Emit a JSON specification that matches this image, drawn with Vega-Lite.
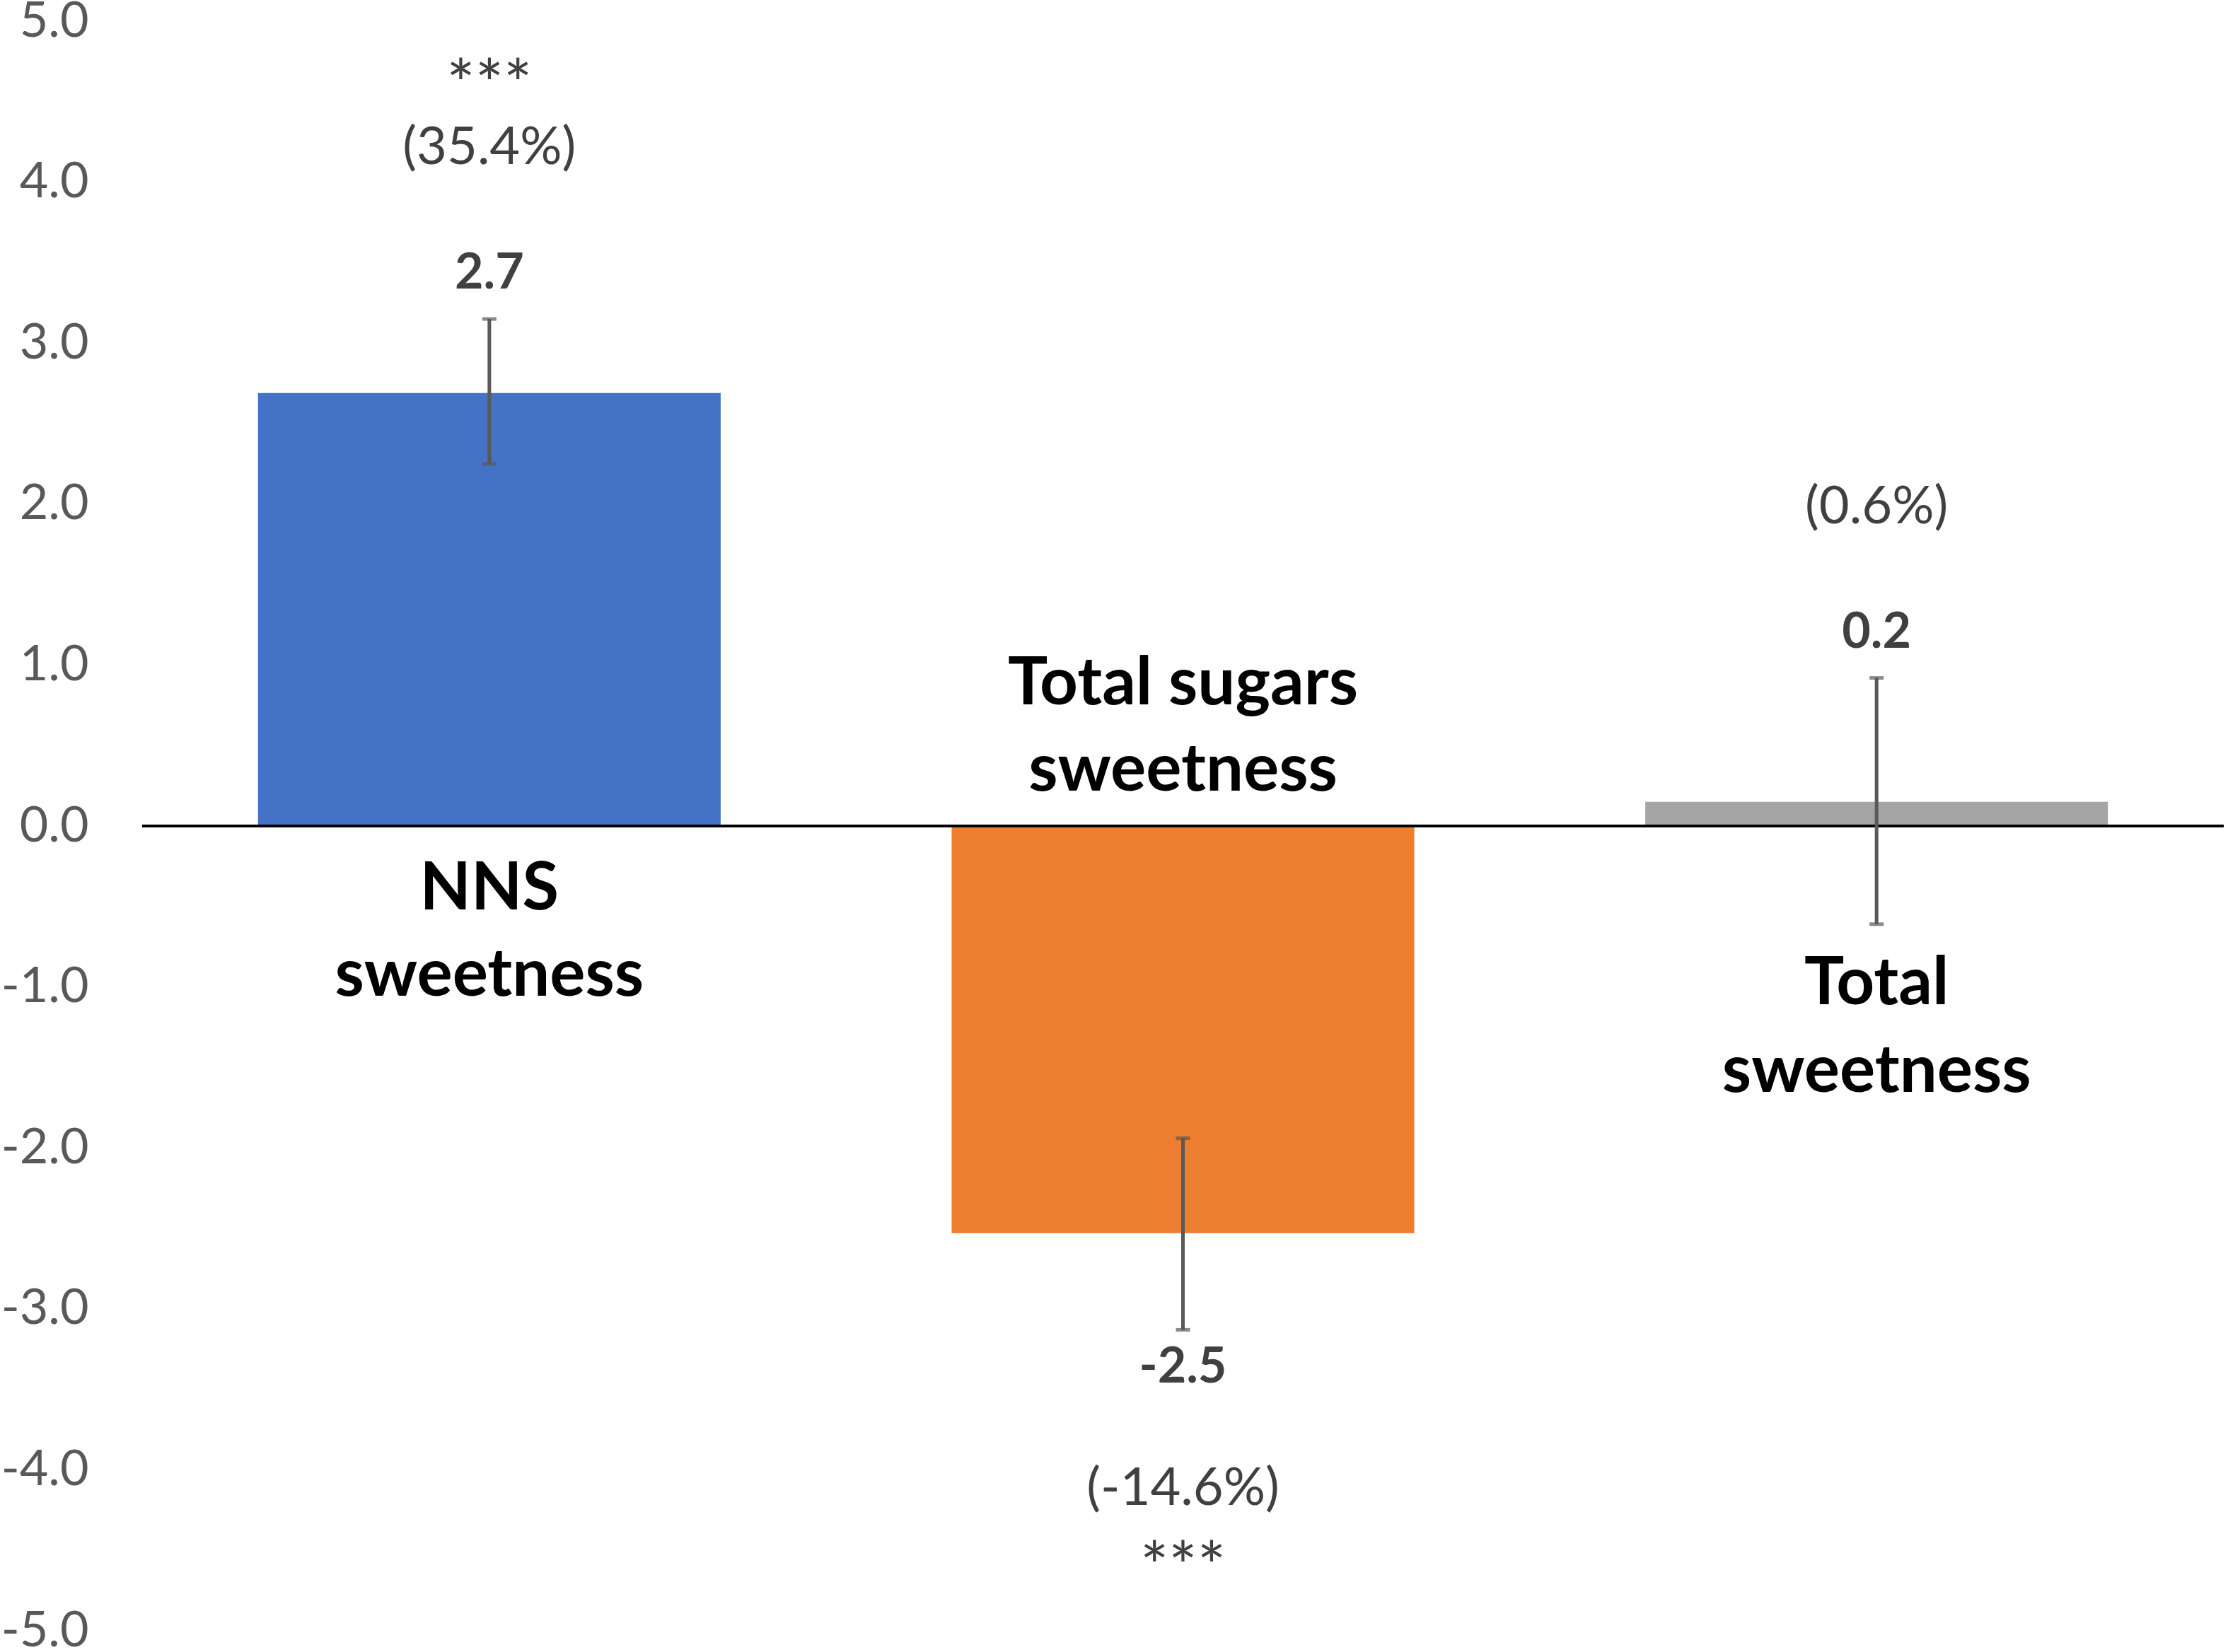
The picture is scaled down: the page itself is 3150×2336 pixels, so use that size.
{
  "$schema": "https://vega.github.io/schema/vega-lite/v6.json",
  "autosize": {"type": "none"},
  "width": 2943,
  "height": 2276,
  "padding": {"left": 201, "top": 30, "right": 6, "bottom": 30},
  "background": "white",
  "config": {
    "view": {"stroke": null},
    "font": "Lato",
    "text": {"font": "Lato", "baseline": "middle", "align": "center"}
  },
  "data": {
    "values": [
      {"name": "NNS sweetness", "label": "NNS\nsweetness", "value": 2.69, "lo": 2.25, "hi": 3.15, "vl": "2.7", "pct": "(35.4%)", "sig": "***"},
      {"name": "Total sugars sweetness", "label": "Total sugars\nsweetness", "value": -2.53, "lo": -3.13, "hi": -1.94, "vl": "-2.5", "pct": "(-14.6%)", "sig": "***"},
      {"name": "Total sweetness", "label": "Total\nsweetness", "value": 0.15, "lo": -0.61, "hi": 0.92, "vl": "0.2", "pct": "(0.6%)", "sig": ""}
    ]
  },
  "encoding": {
    "x": {
      "field": "name",
      "type": "nominal",
      "sort": null,
      "scale": {"paddingInner": 0.333, "paddingOuter": 0.167},
      "axis": null
    }
  },
  "layer": [
    {
      "mark": {"type": "bar"},
      "encoding": {
        "y": {
          "field": "value",
          "type": "quantitative",
          "scale": {"domain": [-5, 5], "nice": false},
          "axis": {
            "values": [-5, -4, -3, -2, -1, 0, 1, 2, 3, 4, 5],
            "labelExpr": "replace(format(datum.value, '.1f'), '\u2212', '-')",
            "title": null,
            "grid": false,
            "domain": false,
            "ticks": false,
            "labelPadding": 76,
            "labelFont": "Lato",
            "labelFontSize": 70,
            "labelColor": "#595959"
          }
        },
        "color": {
          "field": "name",
          "type": "nominal",
          "scale": {"range": ["#4472C4", "#ED7D31", "#A5A5A5"]},
          "legend": null
        }
      }
    },
    {
      "mark": {"type": "rule", "color": "#000000", "strokeWidth": 4},
      "encoding": {"x": {"value": 0}, "x2": {"value": 2943}, "y": {"datum": 0, "type": "quantitative"}}
    },
    {
      "mark": {"type": "rule", "color": "#595959", "strokeWidth": 5},
      "encoding": {
        "y": {"field": "lo", "type": "quantitative"},
        "y2": {"field": "hi"}
      }
    },
    {
      "mark": {"type": "tick", "color": "#595959", "thickness": 5, "size": 20},
      "encoding": {"y": {"field": "lo", "type": "quantitative"}}
    },
    {
      "mark": {"type": "tick", "color": "#595959", "thickness": 5, "size": 20},
      "encoding": {"y": {"field": "hi", "type": "quantitative"}}
    },
    {
      "transform": [{"filter": "datum.value > 0"}],
      "encoding": {"y": {"field": "hi", "type": "quantitative"}},
      "layer": [
        {"mark": {"type": "text", "fontSize": 70, "fontWeight": "bold", "color": "#404040", "dy": -64}, "encoding": {"text": {"field": "vl"}}},
        {"mark": {"type": "text", "fontSize": 74, "color": "#404040", "dy": -241}, "encoding": {"text": {"field": "pct"}}},
        {"mark": {"type": "text", "fontSize": 95, "color": "#404040", "dy": -327}, "encoding": {"text": {"field": "sig"}}}
      ]
    },
    {
      "transform": [{"filter": "datum.value < 0"}],
      "encoding": {"y": {"field": "lo", "type": "quantitative"}},
      "layer": [
        {"mark": {"type": "text", "fontSize": 70, "fontWeight": "bold", "color": "#404040", "dy": 54}, "encoding": {"text": {"field": "vl"}}},
        {"mark": {"type": "text", "fontSize": 74, "color": "#404040", "dy": 226}, "encoding": {"text": {"field": "pct"}}},
        {"mark": {"type": "text", "fontSize": 95, "color": "#404040", "dy": 340}, "encoding": {"text": {"field": "sig"}}}
      ]
    },
    {
      "transform": [{"filter": "datum.name == 'NNS sweetness'"}],
      "mark": {"type": "text", "fontSize": 94, "fontWeight": "bold", "color": "#000000", "lineBreak": "\n", "lineHeight": 122, "dy": 90},
      "encoding": {"y": {"datum": 0, "type": "quantitative"}, "text": {"field": "label"}}
    },
    {
      "transform": [{"filter": "datum.name == 'Total sugars sweetness'"}],
      "mark": {"type": "text", "fontSize": 94, "fontWeight": "bold", "color": "#000000", "lineBreak": "\n", "lineHeight": 122, "dy": -200},
      "encoding": {"y": {"datum": 0, "type": "quantitative"}, "text": {"field": "label"}}
    },
    {
      "transform": [{"filter": "datum.name == 'Total sweetness'"}],
      "mark": {"type": "text", "fontSize": 94, "fontWeight": "bold", "color": "#000000", "lineBreak": "\n", "lineHeight": 124, "dy": 224},
      "encoding": {"y": {"datum": 0, "type": "quantitative"}, "text": {"field": "label"}}
    }
  ]
}
